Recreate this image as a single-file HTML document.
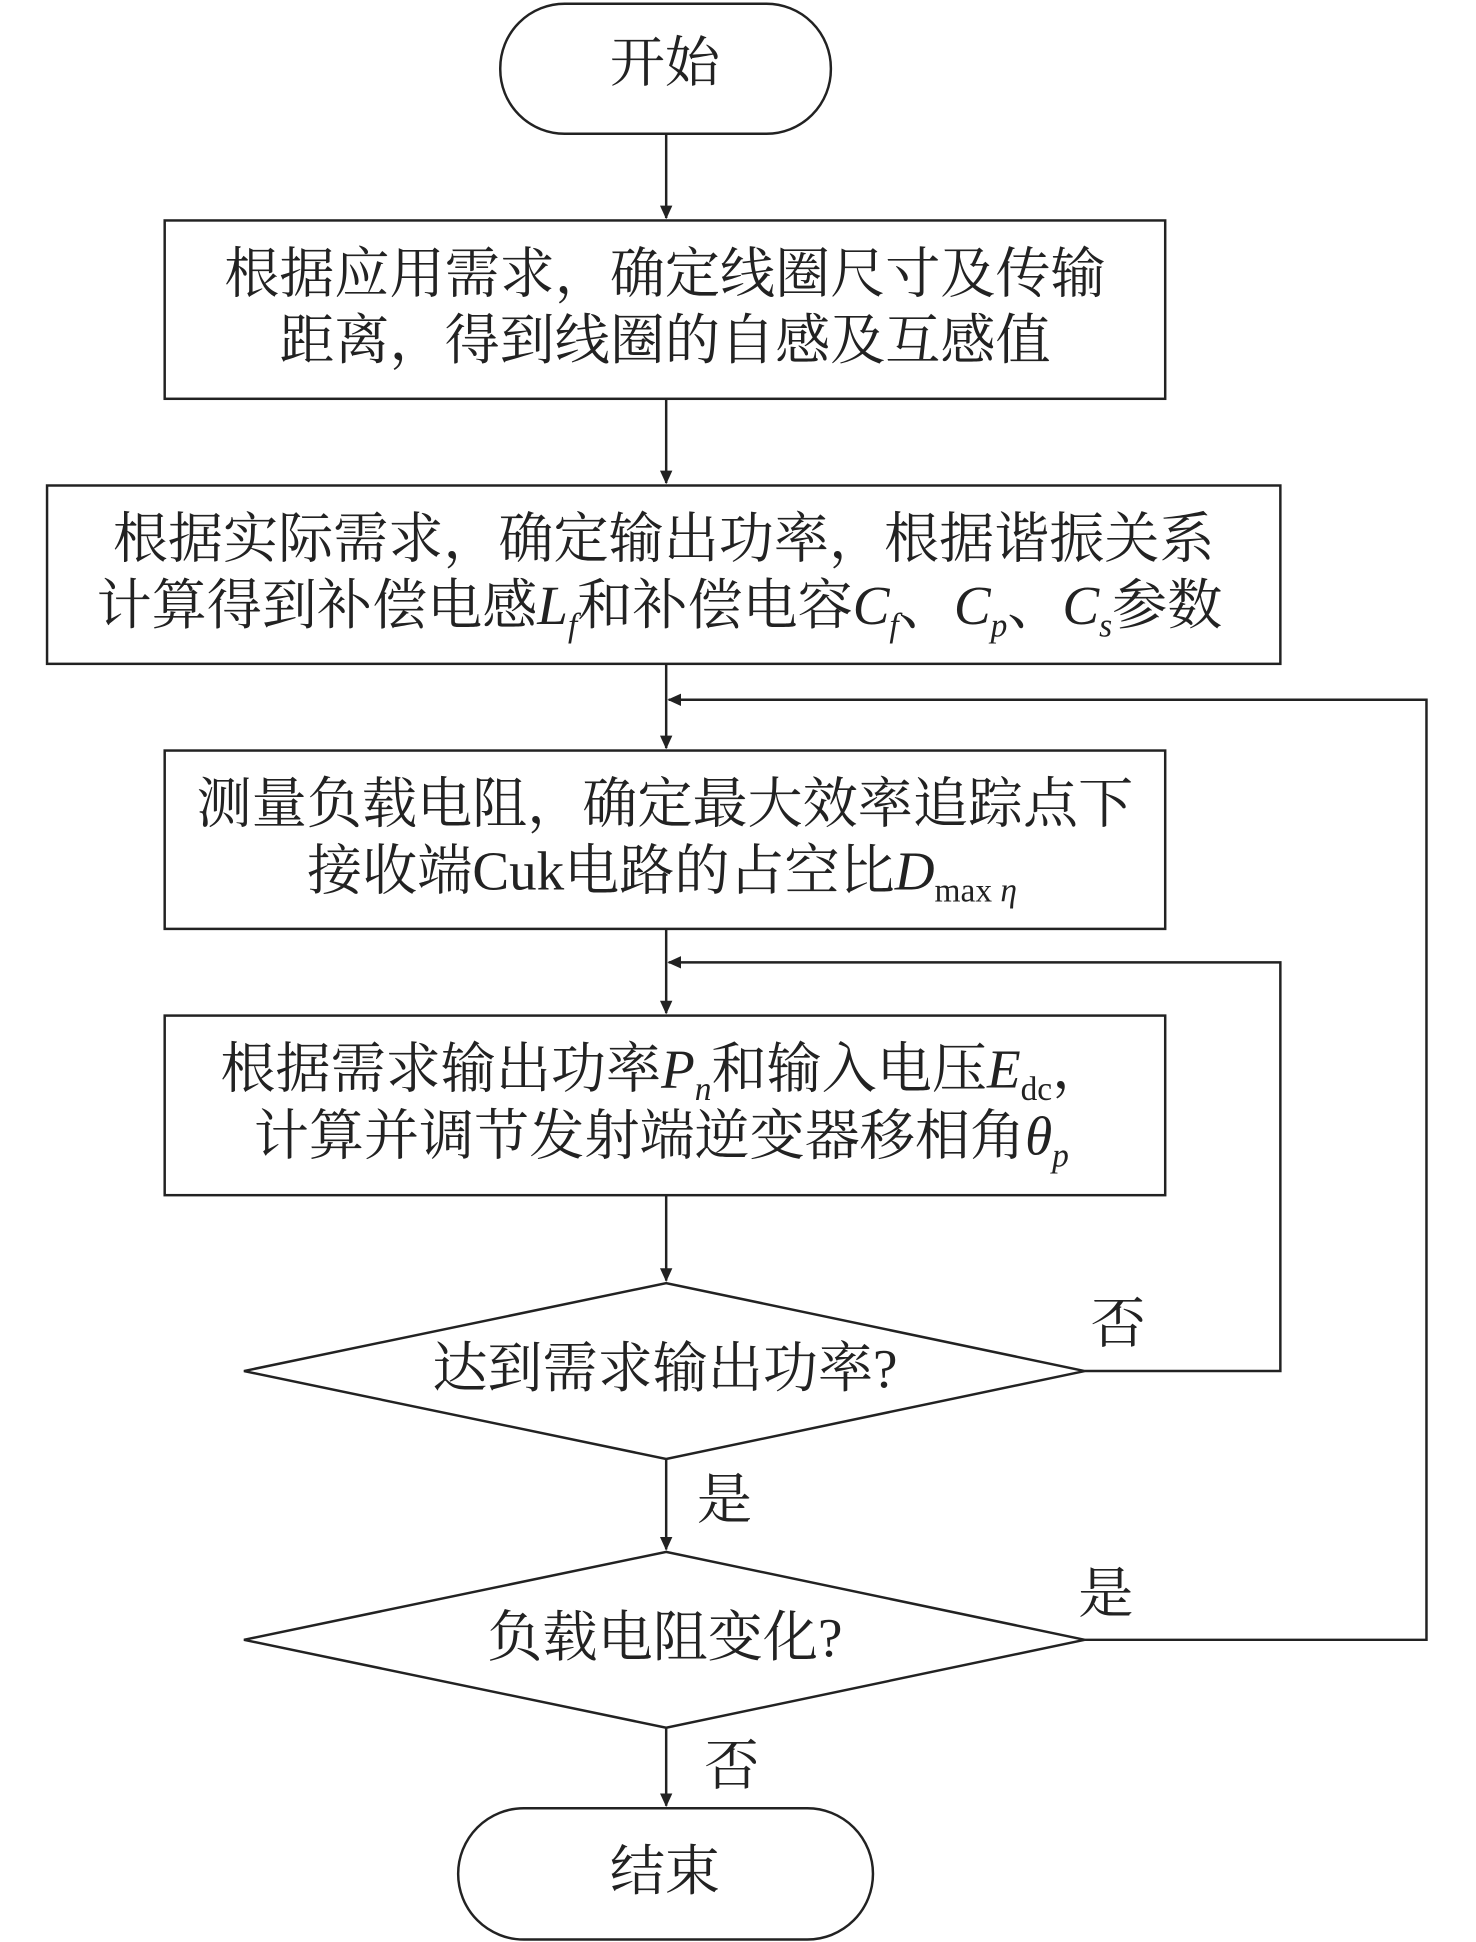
<!DOCTYPE html>
<html><head><meta charset="utf-8"><style>
html,body{margin:0;padding:0;background:#fff;}
svg{display:block;}
text{font-family:"Liberation Serif","Noto Serif CJK SC",serif;fill:#222;}
</style></head><body>
<svg width="1476" height="1942" viewBox="0 0 1192 1568" preserveAspectRatio="none" xmlns="http://www.w3.org/2000/svg">
<defs><marker id="a" markerWidth="12" markerHeight="12" refX="10" refY="5" orient="auto" markerUnits="userSpaceOnUse"><path d="M0,0 L11,5 L0,10 Z" fill="#222"/></marker></defs>
<g stroke="#222" stroke-width="2" fill="none">
<rect x="404" y="3" width="267" height="105" rx="52" ry="52"/>
<rect x="133" y="178" width="808" height="144"/>
<rect x="38" y="392" width="996" height="144"/>
<rect x="133" y="606" width="808" height="144"/>
<rect x="133" y="820" width="808" height="145"/>
<polygon points="197,1107 538,1036 876,1107 538,1178"/>
<polygon points="197,1324 538,1253 876,1324 538,1395"/>
<rect x="370" y="1460" width="335" height="106" rx="53" ry="53"/>
<line x1="538" y1="108" x2="538" y2="176" marker-end="url(#a)"/>
<line x1="538" y1="322" x2="538" y2="390" marker-end="url(#a)"/>
<line x1="538" y1="536" x2="538" y2="604" marker-end="url(#a)"/>
<line x1="538" y1="750" x2="538" y2="818" marker-end="url(#a)"/>
<line x1="538" y1="965" x2="538" y2="1034" marker-end="url(#a)"/>
<line x1="538" y1="1178" x2="538" y2="1251" marker-end="url(#a)"/>
<line x1="538" y1="1395" x2="538" y2="1458" marker-end="url(#a)"/>
<polyline points="876,1107 1034,1107 1034,777 540,777" marker-end="url(#a)"/>
<polyline points="876,1324 1152,1324 1152,565 540,565" marker-end="url(#a)"/>
</g>
<g font-size="44.5">
<text x="537" y="66" text-anchor="middle">开始</text>
<text x="537" y="236" text-anchor="middle">根据应用需求，确定线圈尺寸及传输</text>
<text x="537" y="290" text-anchor="middle">距离，得到线圈的自感及互感值</text>
<text x="536" y="450" text-anchor="middle">根据实际需求，确定输出功率，根据谐振关系</text>
<text x="78" y="504">计算得到补偿电感<tspan font-style="italic">L</tspan><tspan font-style="italic" font-size="27" dy="10">f</tspan><tspan dy="-10">和补偿电容</tspan><tspan font-style="italic">C</tspan><tspan font-style="italic" font-size="27" dy="10">f</tspan><tspan dy="-10">、</tspan><tspan font-style="italic">C</tspan><tspan font-style="italic" font-size="27" dy="10">p</tspan><tspan dy="-10">、</tspan><tspan font-style="italic">C</tspan><tspan font-style="italic" font-size="27" dy="10">s</tspan><tspan dy="-10">参数</tspan></text>
<text x="537" y="664" text-anchor="middle">测量负载电阻，确定最大效率追踪点下</text>
<text x="248" y="718">接收端Cuk电路的占空比<tspan font-style="italic">D</tspan><tspan font-size="27" dy="10">max </tspan><tspan font-size="27" font-style="italic">η</tspan></text>
<text x="178" y="878">根据需求输出功率<tspan font-style="italic">P</tspan><tspan font-style="italic" font-size="27" dy="10">n</tspan><tspan dy="-10">和输入电压</tspan><tspan font-style="italic">E</tspan><tspan font-size="27" dy="10">dc</tspan><tspan dy="-10">，</tspan></text>
<text x="205" y="932">计算并调节发射端逆变器移相角<tspan font-style="italic">θ</tspan><tspan font-style="italic" font-size="27" dy="10">p</tspan></text>
<text x="537" y="1120" text-anchor="middle">达到需求输出功率?</text>
<text x="537" y="1337" text-anchor="middle">负载电阻变化?</text>
<text x="537" y="1526" text-anchor="middle">结束</text>
<text x="903" y="1084" text-anchor="middle">否</text>
<text x="585" y="1226" text-anchor="middle">是</text>
<text x="893" y="1302" text-anchor="middle">是</text>
<text x="591" y="1441" text-anchor="middle">否</text>
</g>
</svg>
</body></html>
